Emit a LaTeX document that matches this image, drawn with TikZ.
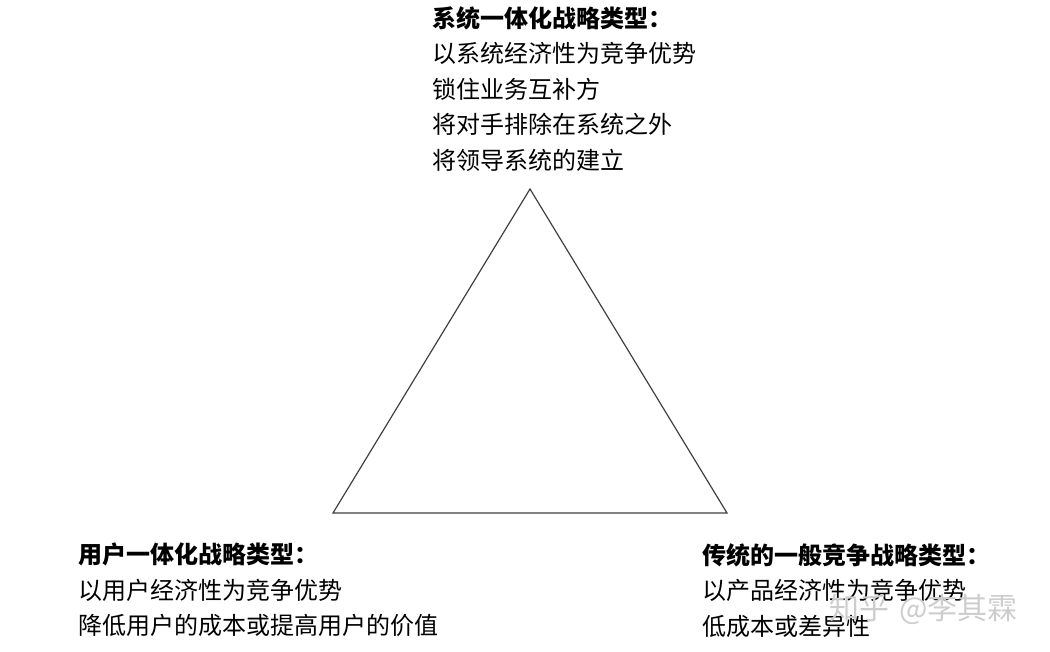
\documentclass[tikz,border=0pt]{standalone}
\usepackage{fontspec}
\newfontfamily\cjk{Noto Sans CJK SC}
\usetikzlibrary{positioning}
\definecolor{markColor}{RGB}{205,205,205}
\tikzset{textblock/.style={anchor=north west, align=left, inner sep=0pt, font=\cjk\fontsize{24}{35.5}\selectfont}}
\tikzset{watermark/.style={anchor=west, inner sep=0pt, text=markColor, font=\cjk\fontsize{30}{30}\selectfont}}

\begin{document}
\begin{tikzpicture}[x=1pt, y=-1pt]
	\useasboundingbox (0,0) rectangle (1050,652);
	% Corners
		\coordinate (apex) at (530,189);
		\coordinate (left) at (333,513);
		\coordinate (right) at (727,513);
	% Text
		\node (system) [textblock] at (432,6) {\textbf{系统一体化战略类型：}\\以系统经济性为竞争优势\\锁住业务互补方\\将对手排除在系统之外\\将领导系统的建立};
		\node (customer) [textblock] at (78,543) {\textbf{用户一体化战略类型：}\\以用户经济性为竞争优势\\降低用户的成本或提高用户的价值};
		\node (generic) [textblock] at (702,543) {\textbf{传统的一般竞争战略类型：}\\以产品经济性为竞争优势\\低成本或差异性};
		\node (mark) [watermark] at (829,609) {知乎\hspace{10pt}@李其霖};
	% Triangle
	\draw [line width=1.2pt, black!75] (apex) -- (left) -- (right) -- cycle;
\end{tikzpicture}
\end{document}
